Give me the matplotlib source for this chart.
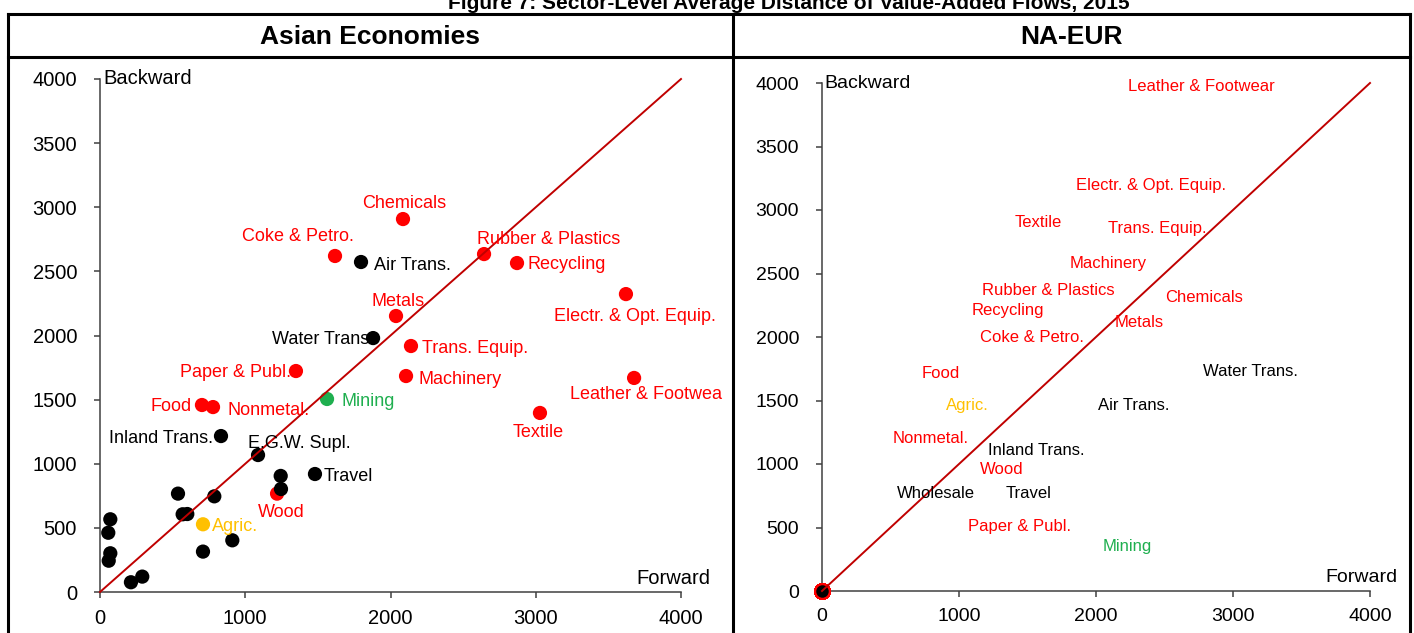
import matplotlib
matplotlib.use("Agg")
import matplotlib.pyplot as plt
from matplotlib.lines import Line2D

plt.rcParams['font.family'] = ['Liberation Sans', 'DejaVu Sans']

# ---- Asian Economies: average distance (forward, backward) per sector ----
asia_sectors = ['Chemicals', 'Coke & Petro.', 'Air Trans.', 'Rubber & Plastics', 'Recycling',
                'Metals', 'Electr. & Opt. Equip.', 'Water Trans.', 'Trans. Equip.', 'Paper & Publ.',
                'Machinery', 'Leather & Footwea', 'Mining', 'Food', 'Nonmetal.', 'Textile',
                'Inland Trans.', 'E.G.W. Supl.', 'Travel', 'Wood', 'Agric.',
                '', '', '', '', '', '', '', '', '', '', '', '', '', '']
asia_forward = [2086, 1618, 1797, 2644, 2871,
                2038, 3621, 1880, 2141, 1349,
                2107, 3677, 1563, 702, 778, 3029,
                833, 1088, 1480, 1219, 709,
                1244, 1246, 787, 537, 569, 601, 911, 709, 71, 57, 71, 60, 213, 291]
asia_backward = [2908, 2620, 2573, 2635, 2565,
                 2152, 2323, 1980, 1918, 1723,
                 1684, 1669, 1505, 1458, 1442, 1396,
                 1216, 1068, 920, 767, 528,
                 905, 803, 746, 767, 606, 608, 403, 315, 567, 462, 302, 244, 76, 120]
asia_group = ['man', 'man', 'srv', 'man', 'man',
              'man', 'man', 'srv', 'man', 'man',
              'man', 'man', 'min', 'man', 'man', 'man',
              'srv', 'srv', 'srv', 'man', 'agr',
              'srv', 'srv', 'srv', 'srv', 'srv', 'srv', 'srv', 'srv', 'srv', 'srv', 'srv', 'srv', 'srv', 'srv']

# label placement for the Asian panel: (dx px, dy px, ha)
asia_label_offsets = [(1, 16, 'center'), (-37, 19, 'center'), (13, -3, 'left'), (65, 15, 'center'), (10, -1, 'left'),
                      (2, 15, 'center'), (9, -22, 'center'), (1, -1, 'right'), (11, -2, 'left'), (-5, -1, 'right'),
                      (12, -3, 'left'), (12, -17, 'center'), (14, -3, 'left'), (-10, -1, 'right'), (14, -3, 'left'),
                      (-2, -20, 'center'), (-8, -2, 'right'), (-10, 12, 'left'), (9, -2, 'left'), (4, -19, 'center'),
                      (9, -2, 'left')]

# ---- NA-EUR: every point sits at the origin, only the labels are spread ----
nae_sectors = ['Leather & Footwear', 'Electr. & Opt. Equip.', 'Textile', 'Trans. Equip.', 'Machinery',
               'Rubber & Plastics', 'Chemicals', 'Recycling', 'Metals', 'Coke & Petro.',
               'Food', 'Water Trans.', 'Agric.', 'Air Trans.', 'Nonmetal.',
               'Inland Trans.', 'Wood', 'Wholesale', 'Travel', 'Paper & Publ.', 'Mining']
nae_forward = [0] * len(nae_sectors)
nae_backward = [0] * len(nae_sectors)
nae_group = ['man', 'man', 'man', 'man', 'man',
             'man', 'man', 'man', 'man', 'man',
             'man', 'srv', 'agr', 'srv', 'man',
             'srv', 'man', 'srv', 'srv', 'man', 'min']
nae_label_x = [2766, 2401, 1577, 2445, 2088, 1650, 2788, 1358, 2314, 1533,
               869, 3124, 1058, 2277, 796, 1562, 1314, 832, 1511, 1445, 2226]
nae_label_y = [3974, 3195, 2904, 2857, 2581, 2369, 2314, 2211, 2117, 1999,
               1716, 1731, 1464, 1464, 1204, 1110, 960, 771, 771, 504, 354]

colors = {'man': '#FF0000', 'srv': '#000000', 'min': '#1FAF4F', 'agr': '#FFC000'}
W, H = 1414, 633

fig = plt.figure(figsize=(W / 100, H / 100), dpi=100)


def style_axes(ax, tick_size):
    ax.set_xlim(0, 4000)
    ax.set_ylim(0, 4000)
    ax.set_xticks(range(0, 4001, 1000))
    ax.set_yticks(range(0, 4001, 500))
    for s in ['top', 'right']:
        ax.spines[s].set_visible(False)
    for s in ['left', 'bottom']:
        ax.spines[s].set_color('#404040')
        ax.spines[s].set_linewidth(1.1)
    ax.tick_params(axis='y', direction='out', length=4.5, width=1.1, color='#404040',
                   labelsize=tick_size, pad=12)
    ax.tick_params(axis='x', direction='out', length=4.5, width=1.1, color='#404040',
                   labelsize=tick_size, pad=8)
    ax.plot([0, 4000], [0, 4000], color='#C00000', lw=1.4, zorder=4, clip_on=False)
    ax.text(0.005, 1.0, 'Backward', transform=ax.transAxes, ha='left', va='center',
            fontsize=tick_size)
    ax.text(1.05, 0.027, 'Forward', transform=ax.transAxes, ha='right', va='center',
            fontsize=tick_size)


# left panel
ax1 = fig.add_axes([100 / W, 1 - 592 / H, 581 / W, 513 / H])
style_axes(ax1, 14.5)
order = sorted(range(len(asia_sectors)), key=lambda i: asia_group[i] == 'srv')
for i in order:
    ax1.scatter(asia_forward[i], asia_backward[i], s=105, color=colors[asia_group[i]],
                edgecolors='none', zorder=3, clip_on=False)
for i, (dx, dy, ha) in enumerate(asia_label_offsets):
    ax1.annotate(asia_sectors[i], (asia_forward[i], asia_backward[i]),
                 xytext=(dx * 0.72, dy * 0.72), textcoords='offset points',
                 ha=ha, va='center', fontsize=13, color=colors[asia_group[i]], zorder=5)

# right panel
ax2 = fig.add_axes([822 / W, 1 - 591 / H, 548 / W, 508 / H])
style_axes(ax2, 14)
ax2.scatter(nae_forward, nae_backward, s=110, color='#000000', edgecolors='#FF0000',
            linewidths=1.5, zorder=3, clip_on=False)
for i, name in enumerate(nae_sectors):
    ax2.text(nae_label_x[i], nae_label_y[i], name, ha='center', va='center',
             fontsize=12, color=colors[nae_group[i]], zorder=5)

# table frame and headers
frame = dict(color='black', lw=2.2, transform=fig.transFigure)
fig.add_artist(Line2D([8 / W, 1410 / W], [1 - 14 / H, 1 - 14 / H], **frame))
fig.add_artist(Line2D([8 / W, 1410 / W], [1 - 57 / H, 1 - 57 / H], **frame))
fig.add_artist(Line2D([8 / W, 8 / W], [0, 1 - 14 / H], **frame))
fig.add_artist(Line2D([1410 / W, 1410 / W], [0, 1 - 14 / H], **frame))
fig.add_artist(Line2D([733 / W, 733 / W], [0, 1 - 14 / H], **frame))

fig.text(370 / W, 1 - 37 / H, 'Asian Economies', ha='center', va='center',
         fontsize=19, fontweight='bold')
fig.text(1071 / W, 1 - 37 / H, 'NA-EUR', ha='center', va='center',
         fontsize=19, fontweight='bold')
fig.text(789 / W, 1 - 9 / H, 'Figure 7: Sector-Level Average Distance of Value-Added Flows, 2015',
         ha='center', va='baseline', fontsize=15, fontweight='bold')

fig.savefig('out.png', dpi=100)
